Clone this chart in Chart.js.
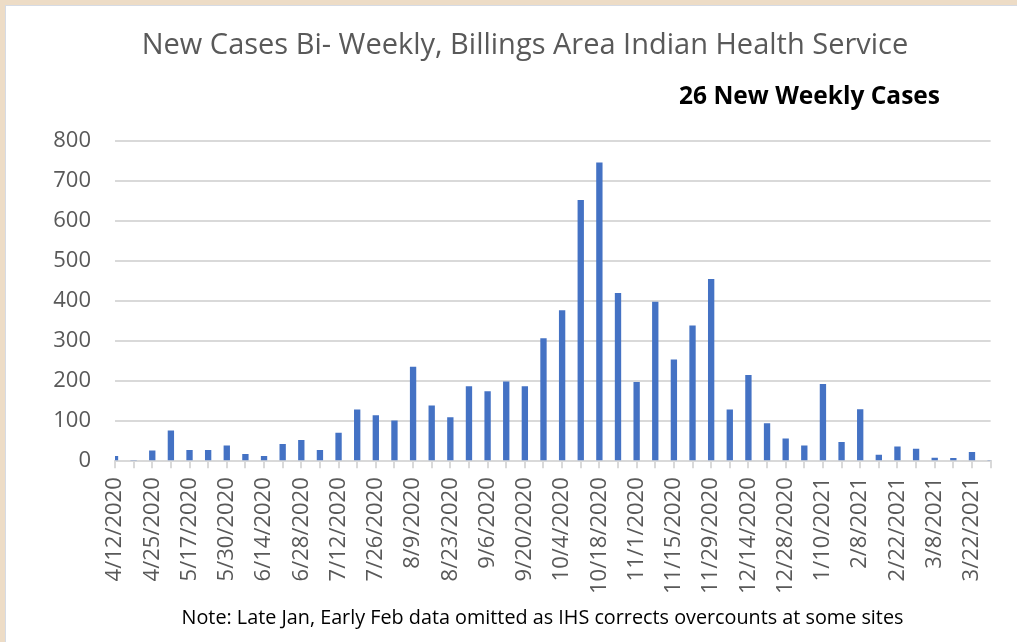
<!DOCTYPE html>
<html>
<head>
<meta charset="utf-8">
<script src="https://cdn.jsdelivr.net/npm/chart.js@4"></script>
<style>
  html, body { margin: 0; padding: 0; }
  body { width: 1017px; height: 642px; background: #eddcc6; overflow: hidden; position: relative; }
  #panel { position: absolute; left: 5px; top: 5px; right: 0; bottom: 0; background: #fff; overflow: hidden;
           border-left: 1px solid #d6dbe4; border-top: 1px solid #d6dbe4; }
  #box { position: absolute; left: 0; top: 0; width: 1020px; height: 601px; }
  #sub { position: absolute; right: 77px; top: 72px; font: bold 24.5px "Open Sans", sans-serif; color: #000; white-space: nowrap; }
  #note { position: absolute; left: 0; width: 1073px; top: 597px; text-align: center;
          font: 19.8px "Open Sans", sans-serif; color: #000; white-space: nowrap; }
</style>
</head>
<body>
<div id="panel">
  <div id="box"><canvas id="barChart"></canvas></div>
  <div id="sub">26 New Weekly Cases</div>
  <div id="note">Note: Late Jan, Early Feb data omitted as IHS corrects overcounts at some sites</div>
</div>
<script>
// labels only on every other bar in the original
const tickLabels = [
  "4/12/2020", "4/25/2020", "5/17/2020", "5/30/2020", "6/14/2020", "6/28/2020",
  "7/12/2020", "7/26/2020", "8/9/2020", "8/23/2020", "9/6/2020", "9/20/2020",
  "10/4/2020", "10/18/2020", "11/1/2020", "11/15/2020", "11/29/2020", "12/14/2020",
  "12/28/2020", "1/10/2021", "2/8/2021", "2/22/2021", "3/8/2021", "3/22/2021",
];
const cases = [
  13, 3, 27, 77, 28, 28, 39, 18, 13, 43, 53, 28,
  71, 129, 115, 102, 236, 139, 110, 187, 175, 199, 187, 307,
  377, 652, 746, 420, 198, 398, 254, 339, 455, 129, 215, 95,
  57, 39, 193, 48, 130, 16, 37, 31, 9, 8, 23, 2,
];
const yTicks = [0, 100, 200, 300, 400, 500, 600, 700, 800];

const categories = cases.map((v, i) => (i % 2 === 0 ? tickLabels[i / 2] : ""));
const grey = "#595959";

const config = {
  type: "bar",
  data: {
    labels: categories,
    datasets: [
      {
        label: "New Cases",
        data: cases,
        backgroundColor: "#4472c4",
        barPercentage: 0.34,
        categoryPercentage: 1,
      },
    ],
  },
  options: {
    responsive: true,
    maintainAspectRatio: false,
    animation: false,
    layout: { padding: { left: 44, right: 26, top: 0, bottom: 4 } },
    plugins: {
      legend: { display: false },
      tooltip: { enabled: false },
      title: {
        display: true,
        text: "New Cases Bi- Weekly, Billings Area Indian Health Service",
        color: grey,
        font: { family: "Open Sans", size: 29, weight: "normal" },
        padding: { top: 22, bottom: 78 },
      },
    },
    scales: {
      x: {
        offset: false,
        grid: { offset: false, drawOnChartArea: false, drawTicks: true, tickLength: 7, color: "#d9d9d9", lineWidth: 2 },
        border: { display: true, color: "#d9d9d9", width: 2 },
        ticks: {
          autoSkip: false,
          maxRotation: 90,
          minRotation: 90,
          padding: 9,
          color: grey,
          font: { family: "Open Sans", size: 22 },
        },
      },
      y: {
        min: 0,
        max: 800,
        afterBuildTicks: (axis) => { axis.ticks = yTicks.map((v) => ({ value: v })); },
        afterFit: (axis) => { axis.width = 65; },
        grid: { drawTicks: false, color: "#d9d9d9", lineWidth: 2 },
        border: { display: false },
        ticks: { padding: 24, color: grey, font: { family: "Open Sans", size: 22 } },
      },
    },
  },
};

var barChart = new Chart(document.getElementById("barChart"), config);
</script>
</body>
</html>
